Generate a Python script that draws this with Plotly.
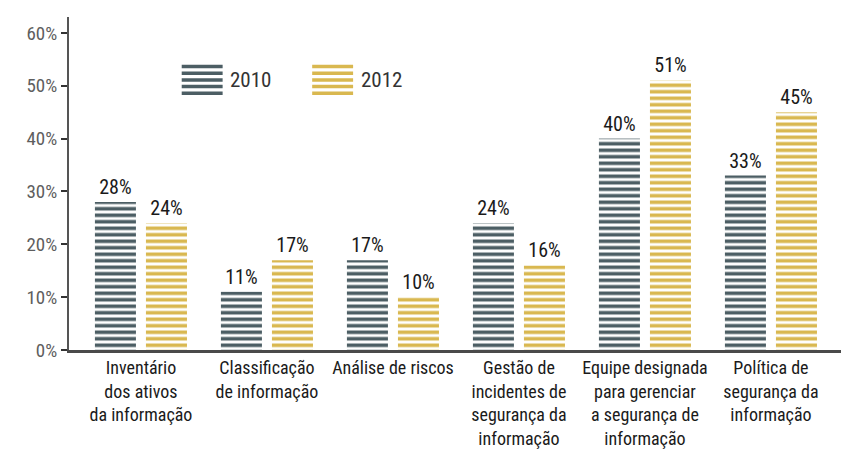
import plotly.graph_objects as go

categories = [
    "Inventário<br>dos ativos<br>da informação",
    "Classificação<br>de informação",
    "Análise de riscos",
    "Gestão de<br>incidentes de<br>segurança da<br>informação",
    "Equipe designada<br>para gerenciar<br>a segurança de<br>informação",
    "Política de<br>segurança da<br>informação",
]
series_names = ["2010", "2012"]
values_2010 = [28, 11, 17, 24, 40, 33]
values_2012 = [24, 17, 10, 16, 51, 45]
y_ticks = [0, 10, 20, 30, 40, 50, 60]
y_tick_labels = [f"{v}%" for v in y_ticks]

C2010 = "#4c5e64"
C2012 = "#d9b850"
FONT = "Roboto Condensed, Roboto, sans-serif"

fig = go.Figure()
for name, vals, col in [(series_names[0], values_2010, C2010), (series_names[1], values_2012, C2012)]:
    fig.add_trace(go.Bar(
        x=list(range(len(categories))), y=vals, name=name,
        text=[f"{v}%" for v in vals], textposition="outside",
        textfont=dict(family=FONT, size=20, color="#1a1a1a"),
        cliponaxis=False,
        marker=dict(color="white", line=dict(width=0),
                    pattern=dict(shape="-", fgcolor=col, bgcolor="white", fgopacity=1,
                                 size=6.5, solidity=0.55, fillmode="replace")),
        showlegend=False,
    ))

# custom legend
legend_pos = [(0.146, series_names[0], C2010), (0.315, series_names[1], C2012)]
for x0, name, col in legend_pos:
    for k in range(5):
        yy = 0.851 - k * 0.02
        fig.add_shape(type="line", xref="paper", yref="paper",
                      x0=x0, x1=x0 + 0.053, y0=yy, y1=yy,
                      line=dict(color=col, width=3.5))
    fig.add_annotation(xref="paper", yref="paper", x=x0 + 0.060, y=0.811,
                       text=name, showarrow=False, xanchor="left", yanchor="middle",
                       font=dict(family=FONT, size=21, color="#333"))

fig.update_layout(
    width=842, height=462,
    margin=dict(l=69, r=1, t=17, b=112),
    plot_bgcolor="white", paper_bgcolor="white",
    barmode="group", bargap=0.19, bargroupgap=0.196,
    font=dict(family=FONT),
)
fig.update_xaxes(
    range=[-0.571, 5.556], tickmode="array",
    tickvals=list(range(len(categories))), ticktext=categories,
    showline=True, linecolor="#4a4a4a", linewidth=2.5, ticks="",
    tickfont=dict(family=FONT, size=18, color="#1a1a1a"),
    showgrid=False, zeroline=False, automargin=False,
)
fig.update_yaxes(
    range=[0, 63], tickmode="array", tickvals=y_ticks, ticktext=y_tick_labels,
    showline=True, linecolor="#555", linewidth=2,
    ticks="outside", ticklen=6, tickwidth=2, tickcolor="#333",
    tickfont=dict(family=FONT, size=19, color="#5e5e5e"),
    showgrid=False, zeroline=False, automargin=False,
)
fig.write_html("out.html", config={"displayModeBar": False},
               post_script="document.body.style.margin='0';")
